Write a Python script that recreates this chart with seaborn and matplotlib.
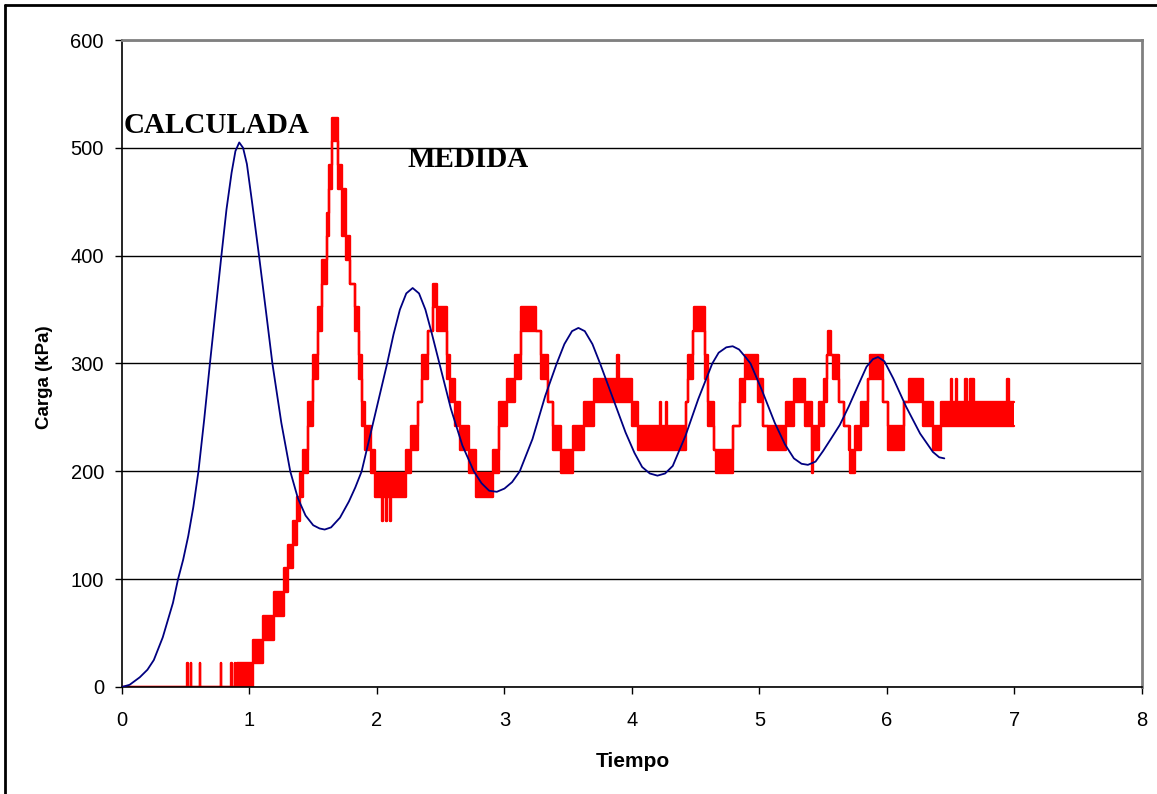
import numpy as np
import pandas as pd
import matplotlib.pyplot as plt
import seaborn as sns
from matplotlib.lines import Line2D

# Curva calculada
calc_t = [0.00, 0.06, 0.14, 0.20, 0.25, 0.32, 0.40, 0.44, 0.48, 0.52, 0.56, 0.60,
          0.645, 0.69, 0.735, 0.78, 0.82, 0.86, 0.89, 0.92, 0.95, 0.98, 1.02, 1.075,
          1.13, 1.18, 1.25, 1.32, 1.38, 1.44, 1.50, 1.55, 1.59, 1.64, 1.71, 1.78,
          1.83, 1.88, 1.98, 2.08, 2.13, 2.18, 2.23, 2.28, 2.33, 2.38, 2.43, 2.49,
          2.58, 2.67, 2.76, 2.82, 2.88, 2.94, 3.00, 3.06, 3.12, 3.22, 3.32, 3.41,
          3.47, 3.53, 3.58, 3.63, 3.69, 3.75, 3.85, 3.95, 4.02, 4.08, 4.14, 4.20,
          4.26, 4.32, 4.42, 4.52, 4.63, 4.68, 4.74, 4.79, 4.84, 4.89, 4.93, 5.02,
          5.12, 5.20, 5.27, 5.33, 5.38, 5.44, 5.50, 5.56, 5.63, 5.70, 5.76, 5.84,
          5.89, 5.93, 5.98, 6.05, 6.15, 6.26, 6.36, 6.41, 6.45]
calc_carga = [0, 2, 9, 16, 25, 46, 78, 100, 118, 140, 167, 200,
              248, 300, 350, 400, 443, 477, 497, 505, 500, 485, 450, 400,
              348, 300, 245, 200, 175, 159, 150, 147, 146, 148, 157, 172,
              185, 200, 250, 300, 327, 350, 365, 370, 365, 350, 328, 300,
              258, 224, 200, 189, 182, 181, 184, 190, 200, 230, 270, 300,
              318, 330, 333, 330, 318, 300, 268, 236, 217, 204, 198, 196,
              198, 205, 233, 267, 300, 310, 315, 316, 313, 306, 300, 275,
              245, 225, 212, 207, 206, 209, 219, 230, 243, 260, 276, 297,
              304, 306, 302, 286, 260, 235, 218, 213, 212]

# Carga medida: señal cuantizada en escalones de 22 kPa.
# Cada tramo empieza en red_t y oscila entre los niveles red_lo y red_hi.
paso = 22
red_t = [0.000, 0.512, 0.518, 0.538, 0.544, 0.609, 0.615, 0.773, 0.779, 0.857,
         0.863, 0.883, 0.889, 0.905, 1.030, 1.110, 1.190, 1.270, 1.300, 1.340,
         1.370, 1.400, 1.420, 1.460, 1.500, 1.540, 1.570, 1.605, 1.626, 1.644,
         1.696, 1.722, 1.761, 1.790, 1.830, 1.860, 1.880, 1.910, 1.950, 1.985,
         2.040, 2.050, 2.070, 2.080, 2.100, 2.110, 2.230, 2.270, 2.320, 2.350,
         2.400, 2.440, 2.470, 2.550, 2.570, 2.610, 2.650, 2.720, 2.780, 2.910,
         2.960, 3.020, 3.080, 3.130, 3.250, 3.290, 3.340, 3.380, 3.440, 3.540,
         3.620, 3.700, 3.880, 3.895, 4.000, 4.050, 4.220, 4.226, 4.270, 4.276,
         4.420, 4.440, 4.480, 4.490, 4.570, 4.600, 4.640, 4.660, 4.790, 4.850,
         4.890, 4.990, 5.030, 5.070, 5.210, 5.270, 5.360, 5.410, 5.420, 5.470,
         5.510, 5.530, 5.540, 5.560, 5.580, 5.620, 5.660, 5.700, 5.710, 5.750,
         5.800, 5.850, 5.870, 5.970, 6.010, 6.130, 6.170, 6.280, 6.360, 6.420,
         6.505, 6.512, 6.545, 6.552, 6.610, 6.625, 6.650, 6.680, 6.945, 6.960]
red_lo = [0, 0, 0, 0, 0, 0, 0, 0, 0, 0,
          0, 0, 0, 0, 1, 2, 3, 4, 5, 6,
          7, 8, 9, 11, 13, 15, 17, 19, 21, 23,
          21, 19, 18, 17, 15, 13, 11, 10, 9, 8,
          7, 8, 7, 8, 7, 8, 9, 10, 12, 13,
          15, 16, 15, 13, 12, 11, 10, 9, 8, 9,
          11, 12, 13, 15, 15, 13, 12, 10, 9, 10,
          11, 12, 12, 12, 11, 10, 10, 10, 10, 10,
          12, 13, 15, 15, 13, 11, 10, 9, 11, 12,
          13, 12, 11, 10, 11, 12, 11, 9, 10, 11,
          12, 14, 14, 14, 13, 12, 11, 10, 9, 10,
          11, 13, 13, 12, 10, 12, 12, 11, 10, 11,
          11, 11, 11, 11, 11, 11, 11, 11, 11, 11]
red_hi = [0, 1, 0, 1, 0, 1, 0, 1, 0, 1,
          0, 1, 0, 1, 2, 3, 4, 5, 6, 7,
          8, 9, 10, 12, 14, 16, 18, 20, 22, 24,
          22, 21, 19, 17, 16, 14, 12, 11, 10, 9,
          9, 9, 9, 9, 9, 9, 10, 11, 12, 14,
          15, 17, 16, 14, 13, 12, 11, 10, 9, 10,
          12, 13, 14, 16, 15, 14, 12, 11, 10, 11,
          12, 13, 14, 13, 12, 11, 12, 11, 12, 11,
          12, 14, 15, 16, 14, 12, 10, 10, 11, 13,
          14, 13, 11, 11, 12, 13, 12, 10, 11, 12,
          13, 14, 15, 14, 14, 12, 11, 11, 10, 11,
          12, 13, 14, 12, 11, 12, 13, 12, 11, 12,
          13, 12, 13, 12, 13, 12, 13, 12, 13, 12]
red_fin = 7.0

calc = pd.DataFrame({'Tiempo': calc_t, 'Carga': calc_carga})
t_edges = np.array(red_t + [red_fin])
lo = np.array(red_lo + [red_lo[-1]]) * paso
hi = np.array(red_hi + [red_hi[-1]]) * paso

sns.set_style("white")
plt.rcParams['font.family'] = ['Liberation Sans', 'DejaVu Sans']
plt.rcParams.update({'text.color': 'black', 'axes.labelcolor': 'black',
                     'xtick.color': 'black', 'ytick.color': 'black'})

fig, ax = plt.subplots(figsize=(11.57, 7.94), dpi=100)
fig.subplots_adjust(left=0.1054, right=0.987, top=0.9496, bottom=0.1348)

# medida
ax.fill_between(t_edges, lo, hi, step='post', color='#ff0000', lw=0, zorder=2)
sns.lineplot(x=t_edges, y=lo, drawstyle='steps-post', color='#ff0000', lw=1.7,
             estimator=None, sort=False, ax=ax, zorder=2)
sns.lineplot(x=t_edges, y=hi, drawstyle='steps-post', color='#ff0000', lw=1.7,
             estimator=None, sort=False, ax=ax, zorder=2)

# calculada
sns.lineplot(data=calc, x='Tiempo', y='Carga', color='#000080', lw=1.3,
             estimator=None, sort=False, ax=ax, zorder=3)

ax.set_xlim(0, 8)
ax.set_ylim(0, 600)
ax.set_xticks(range(0, 9))
ax.set_yticks(range(0, 601, 100))
ax.yaxis.grid(True, color='black', lw=1)
ax.xaxis.grid(False)
ax.set_axisbelow(True)

for s in ['left', 'bottom']:
    ax.spines[s].set_color('black')
    ax.spines[s].set_linewidth(1.2)
for s in ['top', 'right']:
    ax.spines[s].set_color('#808080')
    ax.spines[s].set_linewidth(2)

ax.tick_params(axis='both', direction='out', length=5, width=1, color='black',
               labelsize=14.5, left=True, bottom=True)
ax.tick_params(axis='y', pad=8)
ax.tick_params(axis='x', pad=12)

ax.set_xlabel('Tiempo', fontsize=15, fontweight='bold')
ax.set_ylabel('Carga (kPa)', fontsize=13.5, fontweight='bold')
ax.xaxis.set_label_coords(0.501, -0.100)
ax.yaxis.set_label_coords(-0.068, 0.479)

ax.text(0.01, 514, 'CALCULADA', fontfamily='Liberation Serif', fontweight='bold',
        fontsize=21, va='baseline', ha='left')
ax.text(2.24, 482, 'MEDIDA', fontfamily='Liberation Serif', fontweight='bold',
        fontsize=21, va='baseline', ha='left')

# marco exterior
x0 = 5 / 1157
y0 = 1 - 5 / 794
fig.add_artist(Line2D([x0, x0], [0, y0], color='black', lw=2))
fig.add_artist(Line2D([x0, 1], [y0, y0], color='black', lw=2))

fig.savefig('out.png', dpi=100)
